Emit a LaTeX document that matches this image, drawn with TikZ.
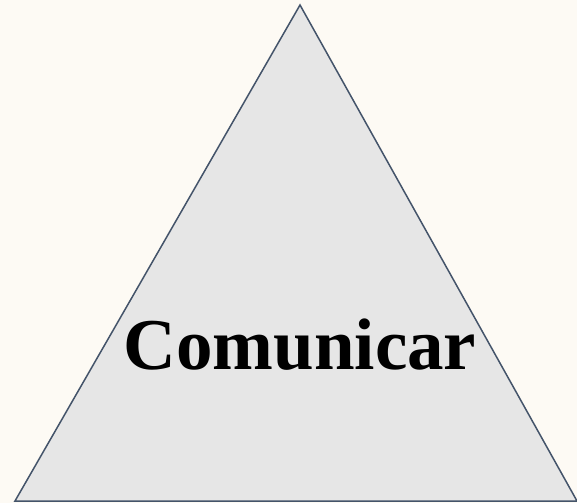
\documentclass[tikz,border=0pt]{standalone}
\usepackage{fontspec}
\setmainfont{Liberation Serif}
\usepackage{tikz}
\usepackage{xcolor}

\definecolor{paper}{RGB}{253,250,244}
\definecolor{edge}{RGB}{68,84,106}
\definecolor{face}{RGB}{230,230,230}

\begin{document}
\begin{tikzpicture}[x=1pt,y=-1pt]
	% Background
	\fill[paper] (0,0) rectangle (577,503);
	\useasboundingbox (0,0) rectangle (577,503);
	
	% Triangle
	\coordinate (top) at (300,5);
	\coordinate (left) at (15,501);
	\coordinate (right) at (577,501);
	\draw[line width=1.5pt, draw=edge, fill=face, line join=miter] (top) -- (left) -- (right) -- cycle;
	
	% Label
	\node (label) at (300,345) {\fontsize{73}{80}\selectfont\textbf{Comunicar}};
\end{tikzpicture}
\end{document}
